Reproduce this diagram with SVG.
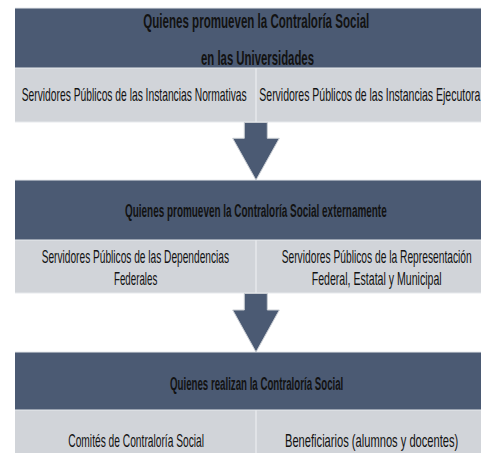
<svg xmlns="http://www.w3.org/2000/svg" width="481" height="453" viewBox="0 0 481 453">
<style>
.hd{fill:#4B5A73}
.rw{fill:#D1D4D9}
.sep{stroke:#E8EAED;stroke-width:1.2;fill:none}
.div{stroke:#E6E8EB;stroke-width:1.5}
text{font-family:"Liberation Sans",Arial,sans-serif;fill:#121212}
.t1{font-size:21px;font-weight:bold}
.t2{font-size:18px;font-weight:bold}
.t3{font-size:18.5px}
.arr{fill:#4B5A73;stroke:#C9CDD3;stroke-width:1}
</style>
<rect width="481" height="453" fill="#FFFFFF"/>
<g id="table1">
<rect class="hd" x="15" y="8" width="466" height="60"/>
<rect class="rw" x="15" y="68" width="466" height="54"/>
<line class="sep" x1="15" y1="8" x2="481" y2="8"/>
<line class="sep" x1="15" y1="68" x2="481" y2="68"/>
<line class="sep" x1="15" y1="122" x2="481" y2="122"/>
<line class="div" x1="256" y1="68" x2="256" y2="122"/>
<text class="t1" x="143.3" y="28" textLength="226" lengthAdjust="spacingAndGlyphs">Quienes promueven la Contraloría Social</text>
<text class="t1" x="201" y="65" textLength="113" lengthAdjust="spacingAndGlyphs">en las Universidades</text>
<text class="t3" x="21.7" y="101" textLength="225" lengthAdjust="spacingAndGlyphs">Servidores Públicos de las Instancias Normativas</text>
<text class="t3" x="259.3" y="101" textLength="221" lengthAdjust="spacingAndGlyphs">Servidores Públicos de las Instancias Ejecutora</text>
</g>
<g id="table2">
<rect class="hd" x="15" y="180" width="466" height="60"/>
<rect class="rw" x="15" y="240" width="466" height="53"/>
<line class="sep" x1="15" y1="180" x2="481" y2="180"/>
<line class="sep" x1="15" y1="240" x2="481" y2="240"/>
<line class="sep" x1="15" y1="293" x2="481" y2="293"/>
<line class="div" x1="256" y1="240" x2="256" y2="293"/>
<text class="t2" x="125" y="216.5" textLength="261.7" lengthAdjust="spacingAndGlyphs">Quienes promueven la Contraloría Social externamente</text>
<text class="t3" x="41.7" y="263.3" textLength="187.3" lengthAdjust="spacingAndGlyphs">Servidores Públicos de las Dependencias</text>
<text class="t3" x="114" y="285" textLength="43.3" lengthAdjust="spacingAndGlyphs">Federales</text>
<text class="t3" x="281.7" y="263.3" textLength="190" lengthAdjust="spacingAndGlyphs">Servidores Públicos de la Representación</text>
<text class="t3" x="311.7" y="285" textLength="130" lengthAdjust="spacingAndGlyphs">Federal, Estatal y Municipal</text>
</g>
<g id="table3">
<rect class="hd" x="15" y="352" width="466" height="58"/>
<rect class="rw" x="15" y="410" width="466" height="43"/>
<line class="sep" x1="15" y1="352" x2="481" y2="352"/>
<line class="sep" x1="15" y1="410" x2="481" y2="410"/>
<line class="div" x1="256" y1="410" x2="256" y2="453"/>
<text class="t2" x="170" y="390" textLength="173.3" lengthAdjust="spacingAndGlyphs">Quienes realizan la Contraloría Social</text>
<text class="t3" x="68.3" y="447" textLength="135.7" lengthAdjust="spacingAndGlyphs">Comités de Contraloría Social</text>
<text class="t3" x="285" y="447" textLength="173.3" lengthAdjust="spacingAndGlyphs">Beneficiarios (alumnos y docentes)</text>
</g>
<g id="connectors">
<polygon class="arr" points="244.3,122.5 267.3,122.5 267.3,138.3 279.3,138.3 256,180 232.7,138.3 244.3,138.3"/>
<polygon class="arr" points="244.3,293.5 267.3,293.5 267.3,310 279.3,310 256,352 232.7,310 244.3,310"/>
</g>
</svg>
